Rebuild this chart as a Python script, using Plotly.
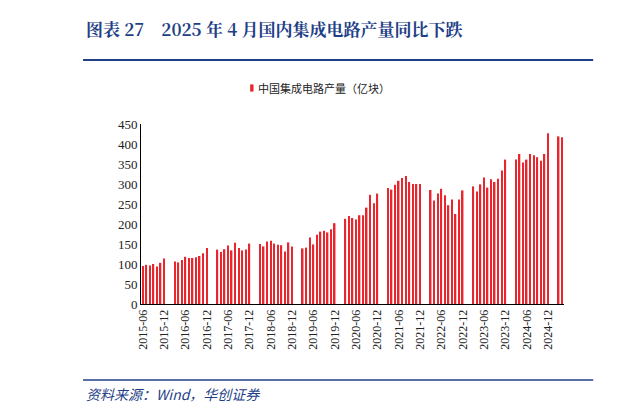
import plotly.graph_objects as go

years_vals = {
    2015: [95, 98, 96, 100, 94, 103, 114],
    2016: [106, 104, 110, 118, 115, 115, 117, 120, 127, 140],
    2017: [136, 130, 137, 146, 134, 153, 140, 134, 136, 151],
    2018: [150, 144, 156, 158, 151, 148, 147, 131, 154, 144],
    2019: [139, 141, 166, 149, 173, 181, 183, 179, 187, 202],
    2020: [213, 220, 215, 211, 222, 222, 241, 273, 252, 276],
    2021: [290, 286, 298, 308, 315, 320, 305, 300, 300, 300],
    2022: [285, 259, 276, 288, 272, 247, 261, 225, 261, 284],
    2023: [294, 281, 299, 316, 291, 312, 305, 313, 334, 361],
    2024: [361, 375, 354, 361, 375, 372, 367, 358, 375, 427],
    2025: [419, 417],
}
series_name = "中国集成电路产量（亿块）"

months, values = [], []
for y in range(2015, 2026):
    start = 6 if y == 2015 else 1
    end = 4 if y == 2025 else 12
    vals = years_vals[y]
    first = 6 if y == 2015 else 3
    for m in range(start, end + 1):
        months.append(f"{y}-{m:02d}")
        values.append(vals[m - first] if m >= first else None)

tick_labels = [m for m in months if m.endswith("-06") or m.endswith("-12")]
RED = "#E8262E"
BLUE = "#1F3F87"

fig = go.Figure(go.Bar(
    x=months, y=values, name=series_name,
    marker=dict(color=RED, line=dict(width=0)), width=0.42,
))
fig.update_layout(
    width=620, height=408, plot_bgcolor="white", paper_bgcolor="white",
    margin=dict(l=133, r=64, t=116, b=112, autoexpand=False),
    font=dict(family="Liberation Serif, serif", size=12, color="#222"),
    showlegend=False,
)
fig.update_xaxes(type="category", tickmode="array", tickvals=tick_labels, ticktext=tick_labels,
                 tickangle=-90, showline=True, linecolor="black", ticks="", automargin=False,
                 tickfont=dict(size=12, family="Liberation Serif"))
fig.update_yaxes(range=[0, 450], dtick=50, showgrid=False, showline=True, linecolor="black",
                 ticks="", automargin=False, tickfont=dict(size=13, family="Liberation Serif"))
# legend (manual)
fig.add_shape(type="rect", xref="paper", yref="paper", x0=0.258, x1=0.266, y0=1.18, y1=1.22,
              fillcolor=RED, line=dict(width=0))
fig.add_annotation(xref="paper", yref="paper", x=0.272, xanchor="left", y=1.2, yanchor="middle",
                   text=series_name, showarrow=False,
                   font=dict(size=11, color="#222", family="Noto Sans CJK SC"))
fig.add_annotation(xref="paper", yref="paper", x=-0.135, xanchor="left", y=1.533, yanchor="middle",
                   text="<b>图表 27    2025 年 4 月国内集成电路产量同比下跌</b>", showarrow=False,
                   font=dict(size=17, color=BLUE, family="Noto Serif CJK SC, Noto Sans CJK SC"))
fig.add_shape(type="line", xref="paper", yref="paper", x0=-0.137, x1=1.069, y0=1.356, y1=1.356,
              line=dict(color=BLUE, width=2))
fig.add_shape(type="line", xref="paper", yref="paper", x0=-0.137, x1=1.069, y0=-0.422, y1=-0.422,
              line=dict(color=BLUE, width=1.5))
fig.add_annotation(xref="paper", yref="paper", x=-0.135, xanchor="left", y=-0.5, yanchor="middle",
                   text="<i>资料来源：Wind，华创证券</i>", showarrow=False,
                   font=dict(size=14, color=BLUE, family="Noto Sans CJK SC"))
fig.write_html("out.html")
